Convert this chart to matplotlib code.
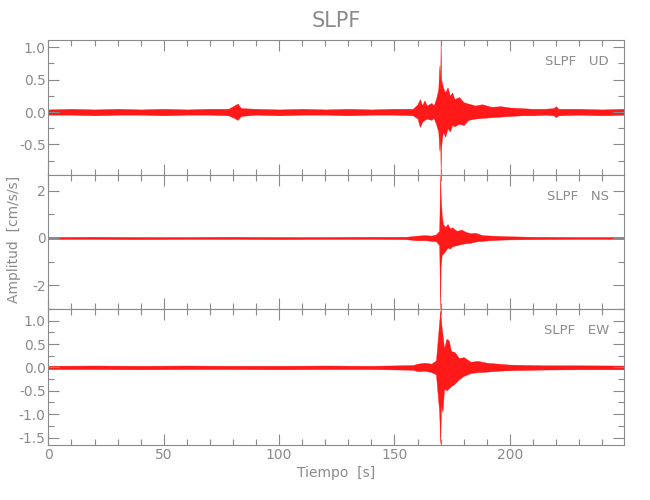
import matplotlib
matplotlib.use('Agg')
import matplotlib.pyplot as plt
from matplotlib.ticker import MultipleLocator, FormatStrFormatter

GRAY = '#8a8a8a'
plt.rcParams['font.family'] = ['Liberation Sans Narrow', 'DejaVu Sans']

station = 'SLPF'
components = ['UD', 'NS', 'EW']

# envelope (upper / lower) of each trace [cm/s/s]
ud_t = [0, 10, 20, 30, 40, 50, 60, 70, 78, 80.5, 82, 83.5, 90, 100, 110, 120, 130, 140, 150,
        158, 160, 161, 162, 163, 164, 166, 167, 168, 169, 169.5, 169.8, 170.0, 170.2, 170.6,
        171, 172, 173, 174, 175, 176, 178, 180, 182, 185, 188, 192, 196, 200, 205, 210, 215,
        219, 220, 221, 230, 240, 249.5]
ud_hi = [0.04, 0.05, 0.04, 0.05, 0.04, 0.05, 0.04, 0.05, 0.05, 0.10, 0.13, 0.06,
         0.05, 0.04, 0.05, 0.04, 0.05, 0.04, 0.05,
         0.05, 0.12, 0.20, 0.10, 0.18, 0.10, 0.14, 0.10, 0.20, 0.35, 0.72, 0.30, 1.10, 0.50, 0.45,
         0.38, 0.30, 0.38, 0.25, 0.30, 0.20, 0.23, 0.15, 0.13, 0.10, 0.12, 0.08, 0.09, 0.07, 0.06, 0.05, 0.05,
         0.06, 0.09, 0.05, 0.05, 0.04, 0.05]
ud_lo = [-0.04, -0.04, -0.05, -0.04, -0.04, -0.05, -0.04, -0.04, -0.05, -0.09, -0.12, -0.06,
         -0.04, -0.05, -0.04, -0.04, -0.05, -0.04, -0.04,
         -0.05, -0.10, -0.23, -0.15, -0.12, -0.10, -0.12, -0.09, -0.18, -0.30, -0.60, -0.25, -0.95, -0.55, -0.40,
         -0.30, -0.38, -0.25, -0.30, -0.20, -0.22, -0.18, -0.20, -0.12, -0.10, -0.09, -0.08, -0.07, -0.06, -0.05, -0.05, -0.04,
         -0.05, -0.08, -0.05, -0.04, -0.05, -0.04]

ns_t = [0, 20, 40, 60, 80, 100, 120, 140, 155, 160, 163, 166, 168, 169.4, 169.8, 170.0, 170.5,
        171, 172, 173, 174, 175, 177, 179, 181, 183, 185, 188, 192, 196, 200, 210, 230, 249.5]
ns_hi = [0.04, 0.05, 0.04, 0.04, 0.05, 0.04, 0.04, 0.05, 0.05, 0.10, 0.12, 0.10, 0.15,
         0.30, 2.64, 1.80, 0.95, 0.60, 0.45, 0.59, 0.40, 0.45, 0.30, 0.35, 0.25, 0.20, 0.22,
         0.12, 0.10, 0.08, 0.07, 0.05, 0.04, 0.04]
ns_lo = [-0.04, -0.04, -0.05, -0.04, -0.04, -0.05, -0.04, -0.04, -0.05, -0.10, -0.09, -0.12, -0.14,
         -0.30, -2.98, -1.20, -0.70, -0.67, -0.55, -0.40, -0.45, -0.35, -0.30, -0.25, -0.22, -0.20, -0.15,
         -0.12, -0.09, -0.07, -0.06, -0.05, -0.04, -0.04]

ew_t = [0, 20, 40, 60, 80, 100, 120, 140, 158, 160, 163, 166, 168, 169.4, 169.8, 170.2, 170.8,
        171.5, 172.5, 173.5, 174.5, 176, 178, 180, 183, 186, 190, 195, 200, 215, 230, 249.5]
ew_hi = [0.035, 0.04, 0.035, 0.04, 0.035, 0.035, 0.04, 0.035, 0.05, 0.08, 0.10, 0.08, 0.15,
         0.97, 1.22, 0.97, 0.70, 0.40, 0.61, 0.58, 0.35, 0.33, 0.20, 0.22,
         0.12, 0.14, 0.10, 0.08, 0.06, 0.045, 0.045, 0.04]
ew_lo = [-0.035, -0.035, -0.04, -0.035, -0.035, -0.04, -0.035, -0.035, -0.05, -0.08, -0.07, -0.10, -0.15,
         -0.95, -1.62, -0.80, -0.95, -0.45, -0.49, -0.45, -0.40, -0.35, -0.25, -0.18,
         -0.12, -0.10, -0.09, -0.07, -0.06, -0.045, -0.04, -0.04]

ylims = [(-0.97, 1.11), (-3.0, 2.66), (-1.66, 1.25)]
ymajor = [0.5, 2, 0.5]
yminor = [0.25, 1, 0.25]
yfmt = ['%.1f', '%d', '%.1f']
t_max = 249.5


def style_axis(ax):
    for sp in ax.spines.values():
        sp.set_color(GRAY)
        sp.set_linewidth(0.8)
    ax.tick_params(which='both', direction='in', top=True, right=True,
                   color=GRAY, labelcolor=GRAY, labelsize=10, pad=2)
    ax.tick_params(which='major', length=8, width=0.8)
    ax.tick_params(which='minor', length=4, width=0.8)


fig = plt.figure(figsize=(6.5, 5), dpi=100)
boxes = [[0.0745, 0.65, 0.8855, 0.27],
         [0.0745, 0.382, 0.8855, 0.268],
         [0.0745, 0.11, 0.8855, 0.272]]
traces = [(ud_t, ud_hi, ud_lo), (ns_t, ns_hi, ns_lo), (ew_t, ew_hi, ew_lo)]

for i, (t, hi, lo) in enumerate(traces):
    ax = fig.add_axes(boxes[i])
    ax.fill_between(t, lo, hi, color='red', lw=0.3, alpha=0.9)
    ax.set_xlim(0, t_max)
    ax.set_ylim(*ylims[i])
    ax.xaxis.set_major_locator(MultipleLocator(50))
    ax.xaxis.set_minor_locator(MultipleLocator(10))
    ax.yaxis.set_major_locator(MultipleLocator(ymajor[i]))
    ax.yaxis.set_minor_locator(MultipleLocator(yminor[i]))
    ax.yaxis.set_major_formatter(FormatStrFormatter(yfmt[i]))
    style_axis(ax)
    if i < 2:
        ax.set_xticklabels([])
    else:
        ax.set_xlabel('Tiempo  [s]', color=GRAY, fontsize=10, labelpad=3)
    ax.text(0.974, 0.84, station + '   ' + components[i], transform=ax.transAxes,
            ha='right', va='center', color=GRAY, fontsize=9.5)

fig.text(0.518, 0.958, station, ha='center', va='center', color=GRAY, fontsize=15)
fig.text(0.022, 0.522, 'Amplitud  [cm/s/s]', rotation=90, ha='center', va='center',
         color=GRAY, fontsize=10)

fig.savefig('out.png', dpi=100)
